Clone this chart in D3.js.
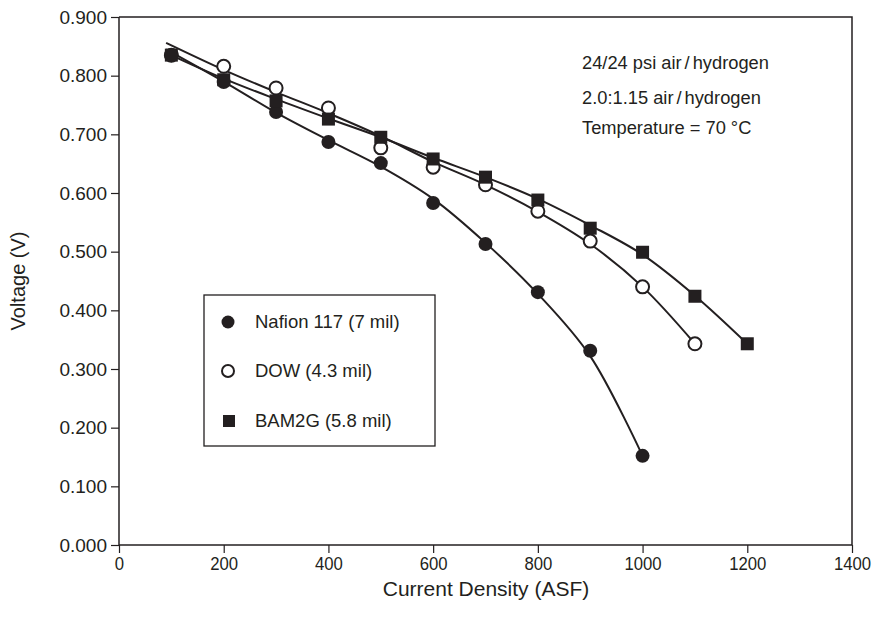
<!DOCTYPE html>
<html><head><meta charset="utf-8">
<script src="https://cdn.jsdelivr.net/npm/d3@7"></script>
<style>
body{margin:0;background:#fff;}
text{font-family:"Liberation Sans",Arial,sans-serif;fill:#231f20;}
</style></head>
<body><svg id="c" width="879" height="617"></svg>
<script>
// ---- data ----
const currentNafion = [100,200,300,400,500,600,700,800,900,1000];
const voltNafion    = [0.835,0.789,0.738,0.687,0.651,0.583,0.513,0.431,0.331,0.152];
const currentDow    = [100,200,300,400,500,600,700,800,900,1000,1100];
const voltDow       = [0.835,0.816,0.779,0.745,0.677,0.644,0.614,0.569,0.518,0.440,0.343];
const currentBam    = [100,200,300,400,500,600,700,800,900,1000,1100,1200];
const voltBam       = [0.835,0.793,0.757,0.726,0.695,0.658,0.627,0.588,0.540,0.499,0.424,0.343];
// fitted curves as drawn
const fitXNafion = [90,200,300,400,500,600,700,800,900,1000];
const fitYNafion = [0.845,0.790,0.737,0.690,0.645,0.590,0.515,0.428,0.322,0.152];
const fitXDow    = [90,200,300,400,500,600,700,800,900,1000,1100];
const fitYDow    = [0.856,0.810,0.772,0.736,0.697,0.653,0.614,0.568,0.513,0.440,0.343];
const fitXBam    = [90,200,300,400,500,600,700,800,900,1000,1100,1200];
const fitYBam    = [0.839,0.795,0.760,0.727,0.695,0.660,0.627,0.590,0.545,0.495,0.425,0.343];
const xTicks = [0,200,400,600,800,1000,1200,1400];
const yTicks = [0,0.1,0.2,0.3,0.4,0.5,0.6,0.7,0.8,0.9];
const legendLabels = ["Nafion 117 (7 mil)","DOW (4.3 mil)","BAM2G (5.8 mil)"];
const notes = [["24/24 psi air","/","hydrogen"],["2.0:1.15 air","/","hydrogen"],["Temperature = 70 \u00B0C"]];

const ink = "#231f20";
const svg = d3.select("#c");
const L=119, R=852, T=17, B=545;
const x = d3.scaleLinear().domain([0,1400]).range([L,R]);
const y = d3.scaleLinear().domain([0,0.9]).range([B,T]);

// frame (top/right)
svg.append("path").attr("d",`M${L},${T}H${R}V${B}`).attr("fill","none").attr("stroke",ink).attr("stroke-width",1.5);

const xa = svg.append("g").attr("transform",`translate(0,${B})`)
  .call(d3.axisBottom(x).tickValues(xTicks).tickSize(8).tickPadding(4).tickFormat(d3.format("d")));
const ya = svg.append("g").attr("transform",`translate(${L},0)`)
  .call(d3.axisLeft(y).tickValues(yTicks).tickSize(8).tickPadding(4).tickFormat(d3.format(".3f")));
[xa,ya].forEach(a=>{
  a.attr("font-size",null).attr("font-family",null);
  a.select(".domain").attr("stroke",ink).attr("stroke-width",1.5);
  a.selectAll(".tick line").attr("stroke",ink).attr("stroke-width",1.2);
  a.selectAll(".tick text").attr("fill",ink);
});
ya.selectAll(".tick text").style("font-size","19px");
xa.selectAll(".tick text").style("font-size","19px").attr("transform","scale(0.88,1)");
ya.select(".domain").attr("d",`M0,${B}V${T}`);
xa.select(".domain").attr("d",`M${L},0H${R}`);

svg.append("text").attr("x",486).attr("y",596).attr("text-anchor","middle").style("font-size","21px").text("Current Density (ASF)");
svg.append("text").attr("transform","translate(25,281) rotate(-90)").attr("text-anchor","middle").style("font-size","20px").text("Voltage (V)");

// curves
const line = d3.line().x(d=>x(d[0])).y(d=>y(d[1])).curve(d3.curveCatmullRom.alpha(0.5));
[[fitXNafion,fitYNafion],[fitXDow,fitYDow],[fitXBam,fitYBam]].forEach(([xs,ys])=>{
  svg.append("path").attr("d",line(xs.map((v,i)=>[v,ys[i]]))).attr("fill","none").attr("stroke",ink).attr("stroke-width",2);
});

// markers
function drawMarkers(g, xs, ys, type, sz){
  const pts = xs.map((v,i)=>[v,ys[i]]);
  if(type==="square"){
    g.selectAll("rect.m").data(pts).join("rect").attr("x",d=>x(d[0])-sz/2).attr("y",d=>y(d[1])-sz/2)
      .attr("width",sz).attr("height",sz).attr("fill",ink);
  } else {
    g.selectAll("circle.m").data(pts).join("circle").attr("cx",d=>x(d[0])).attr("cy",d=>y(d[1]))
      .attr("r",sz).attr("fill",type==="open"?"#fff":ink).attr("stroke",ink).attr("stroke-width",type==="open"?2:0);
  }
}
drawMarkers(svg.append("g"), currentNafion, voltNafion, "filled", 7);
drawMarkers(svg.append("g"), currentDow, voltDow, "open", 6.5);
drawMarkers(svg.append("g"), currentBam, voltBam, "square", 13);

// legend
const lg = svg.append("g");
lg.append("rect").attr("x",204).attr("y",295).attr("width",231).attr("height",151).attr("fill","#fff").attr("stroke",ink).attr("stroke-width",1.3);
const ly = [322,371,421];
lg.append("circle").attr("cx",228).attr("cy",ly[0]).attr("r",6.5).attr("fill",ink);
lg.append("circle").attr("cx",228).attr("cy",ly[1]).attr("r",6).attr("fill","#fff").attr("stroke",ink).attr("stroke-width",2);
lg.append("rect").attr("x",223).attr("y",ly[2]-6).attr("width",12).attr("height",12).attr("fill",ink);
legendLabels.forEach((t,i)=>lg.append("text").attr("x",255).attr("y",ly[i]+6).style("font-size","18.5px").text(t));

// notes
const ny=[69,104,134];
notes.forEach((parts,i)=>{
  const t = svg.append("text").attr("x",582).attr("y",ny[i]).style("font-size","18.3px");
  parts.forEach((p,j)=>t.append("tspan").attr("dx",j>0?3:0).text(p));
});
</script></body></html>
